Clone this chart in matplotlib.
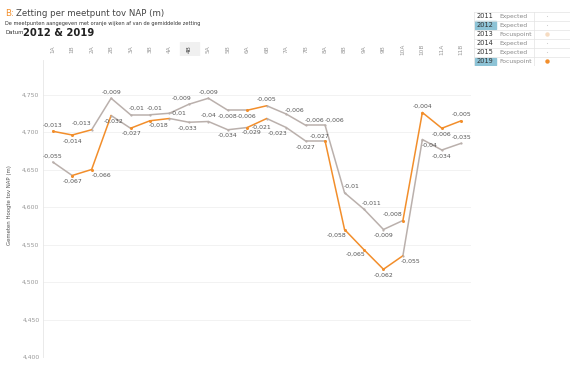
import matplotlib
matplotlib.use("Agg")
import matplotlib.pyplot as plt
from matplotlib.patches import Rectangle

meetpunten = ["1A", "1B", "2A", "2B", "3A", "3B", "4A", "4B", "5A", "5B", "6A", "6B",
              "7A", "7B", "8A", "8B", "9A", "9B", "10A", "10B", "11A", "11B"]
hoogte_2012 = [4.701, 4.696, 4.703, 4.745, 4.723, 4.723, 4.725, 4.737, 4.745, 4.729, 4.729,
               4.735, 4.724, 4.709, 4.709, 4.619, 4.597, 4.570, 4.582, 4.726, 4.705, 4.715]
zetting_2012 = ["-0,013", "-0,014", "-0,013", "-0,009", "-0,01", "-0,01", "-0,01", "-0,009",
                "-0,009", "-0,008", "-0,006", "-0,005", "-0,006", "-0,006", "-0,006", "-0,01",
                "-0,011", "-0,009", "-0,008", "-0,004", "-0,006", "-0,005"]
focus_2012 = [1, 1, 0, 0, 0, 0, 0, 0, 0, 0, 1, 0, 0, 0, 0, 0, 0, 0, 1, 1, 1, 1]
hoogte_2019 = [4.660, 4.642, 4.650, 4.722, 4.705, 4.715, 4.718, 4.713, 4.714, 4.703, 4.706,
               4.718, 4.706, 4.688, 4.688, 4.570, 4.543, 4.517, 4.535, 4.690, 4.676, 4.685]
zetting_2019 = ["-0,055", "-0,067", "-0,066", "-0,032", "-0,027", "-0,018", "", "-0,033",
                "-0,04", "-0,034", "-0,029", "-0,021", "-0,023", "-0,027", "-0,027", "-0,058",
                "-0,065", "-0,062", "-0,055", "-0,04", "-0,034", "-0,035"]
focus_2019 = [0, 1, 1, 0, 1, 1, 0, 0, 0, 0, 1, 0, 0, 0, 1, 1, 1, 1, 0, 0, 0, 0]
y_ticks = [4.40, 4.45, 4.50, 4.55, 4.60, 4.65, 4.70, 4.75]
legend_years = ["2011", "2012", "2013", "2014", "2015", "2019"]
legend_types = ["Expected", "Expected", "Focuspoint", "Expected", "Expected", "Focuspoint"]

# label placement (pixel offsets of label centre from the point)
pos_2012 = [(0, -6), (0, 6), (-10, -6), (0, -6), (6, -6), (5, -6), (9, 0), (-7, -6), (0, -6),
            (0, 6), (-1, 6), (0, -6), (8, -4), (9, -5), (9, -5), (7, -6), (8, -6), (0, 6),
            (-10, -6), (0, -6), (0, 6), (0, -6)]
pos_2019 = [(0, -6), (0, 6), (10, 6), (2, 6), (1, 5), (9, 5), (0, 6), (-1, 6), (0, -6),
            (0, 6), (4, 5), (-5, 9), (-9, 6), (0, 6), (-6, -5), (-8, 6), (-8, 5), (0, 6),
            (8, 6), (7, 6), (0, 6), (0, -6)]

ORANGE = "#f28e2b"
GRAY = "#bab0ac"
TXT = "#555555"

W, H = 579, 372
fig = plt.figure(figsize=(W / 100, H / 100), dpi=100)

def fx(px):
    return px / W

def fy(py):
    return 1 - py / H

ax_l, ax_r, ax_t, ax_b = 43, 471, 60, 357
ax = fig.add_axes([fx(ax_l), fy(ax_b), fx(ax_r - ax_l), (ax_b - ax_t) / H])
x = list(range(len(meetpunten)))
ax.set_xlim(-0.5, len(meetpunten) - 0.5)
ax.set_ylim(4.40, 4.796)

for v in y_ticks:
    ax.axhline(v, color="#f0f0f0", lw=0.6, zorder=0)

PT = 0.72  # points per pixel at 100 dpi

def draw_series(ys, focus, z):
    for i in range(len(ys) - 1):
        c = ORANGE if focus[i] else GRAY
        ax.plot([x[i], x[i + 1]], [ys[i], ys[i + 1]], color=c, lw=1.1,
                solid_capstyle="round", zorder=z + (1 if focus[i] else 0))
    for i in range(len(ys)):
        c = ORANGE if focus[i] else GRAY
        ax.plot([x[i]], [ys[i]], marker="o", ms=2.2 if focus[i] else 1.6, color=c,
                markeredgewidth=0, zorder=z + 2)

draw_series(hoogte_2019, focus_2019, 2)
draw_series(hoogte_2012, focus_2012, 2)

for vals, labs, pos in ((hoogte_2012, zetting_2012, pos_2012), (hoogte_2019, zetting_2019, pos_2019)):
    for i in x:
        if labs[i]:
            dx, dy = pos[i]
            ax.annotate(labs[i], (i, vals[i]), xytext=(dx * PT, -dy * PT), textcoords="offset points",
                        ha="center", va="center", fontsize=4.4, color=TXT, zorder=6)

ax.set_yticks(y_ticks)
ax.set_yticklabels([f"{v:.3f}".replace(".", ",") for v in y_ticks], fontsize=4.4, color="#999999")
ax.tick_params(axis="y", length=0, pad=2.5)
ax.set_xticks([])
for s in ["top", "right", "bottom"]:
    ax.spines[s].set_visible(False)
ax.spines["left"].set_color("#e6e6e6")
ax.spines["left"].set_linewidth(0.6)

# column headers
hx = fig.add_axes([fx(ax_l), fy(56), fx(ax_r - ax_l), 14 / H])
hx.set_xlim(-0.5, len(meetpunten) - 0.5)
hx.set_ylim(0, 1)
hx.axis("off")
hx.add_patch(Rectangle((6.55, 0.0), 0.95, 1.0, color="#f0f0f0", zorder=0))
for i, lab in enumerate(meetpunten):
    hx.text(i, 0.5, lab, rotation=90, ha="center", va="center", fontsize=4.2,
            color="#444444" if i == 7 else "#999999")

fig.text(fx(10), fy(205), "Gemeten Hoogte tov NAP (m)", rotation=90, ha="center",
         va="center", fontsize=3.9, color="#555555")

# titles
fig.text(fx(5), fy(13), "B:", fontsize=6.2, color=ORANGE, va="center")
fig.text(fx(16), fy(13), "Zetting per meetpunt tov NAP (m)", fontsize=6.2, color="#444444", va="center")
fig.text(fx(5), fy(23), "De meetpunten aangegeven met oranje wijken af van de gemiddelde zetting",
         fontsize=3.6, color="#333333", va="center")
fig.text(fx(5), fy(33), "Datum", fontsize=3.9, color="#333333", va="center")
fig.text(fx(23), fy(32.5), "2012 & 2019", fontsize=7.2, color="#222222", va="center", fontweight="bold")

# legend table
LT, LB, LL, LR = 11.7, 66, 474, 570
lg = fig.add_axes([fx(LL), fy(LB), fx(LR - LL), (LB - LT) / H])
lg.set_xlim(LL, LR)
lg.set_ylim(LB, LT)
lg.axis("off")
rh = (LB - LT) / 6
for r, (yr, tp) in enumerate(zip(legend_years, legend_types)):
    y0 = LT + r * rh
    if yr in ("2012", "2019"):
        lg.add_patch(Rectangle((475, y0 + 0.6), 21, rh - 1.2, color="#8dc3d6", zorder=0))
    lg.plot([LL, LR], [y0 + rh, y0 + rh], color="#e3e3e3", lw=0.5)
    lg.text(477, y0 + rh / 2, yr, fontsize=4.8, color="#333333", va="center")
    lg.text(499, y0 + rh / 2, tp, fontsize=4.3, color="#888888", va="center")
    if tp == "Focuspoint":
        c = ORANGE if yr == "2019" else "#f6dcc2"
        lg.plot([547], [y0 + rh / 2], marker="o", ms=3.2, color=c, markeredgewidth=0)
    else:
        lg.plot([547], [y0 + rh / 2], marker="o", ms=0.8, color="#cccccc", markeredgewidth=0)
lg.plot([LL, LR], [LT, LT], color="#e3e3e3", lw=0.5)
lg.plot([LL, LL], [LT, LB], color="#e3e3e3", lw=0.5)
lg.plot([LR, LR], [LT, LB], color="#e3e3e3", lw=0.5)
lg.plot([534, 534], [LT, LB], color="#e3e3e3", lw=0.5)

fig.savefig("out.png", dpi=100)
